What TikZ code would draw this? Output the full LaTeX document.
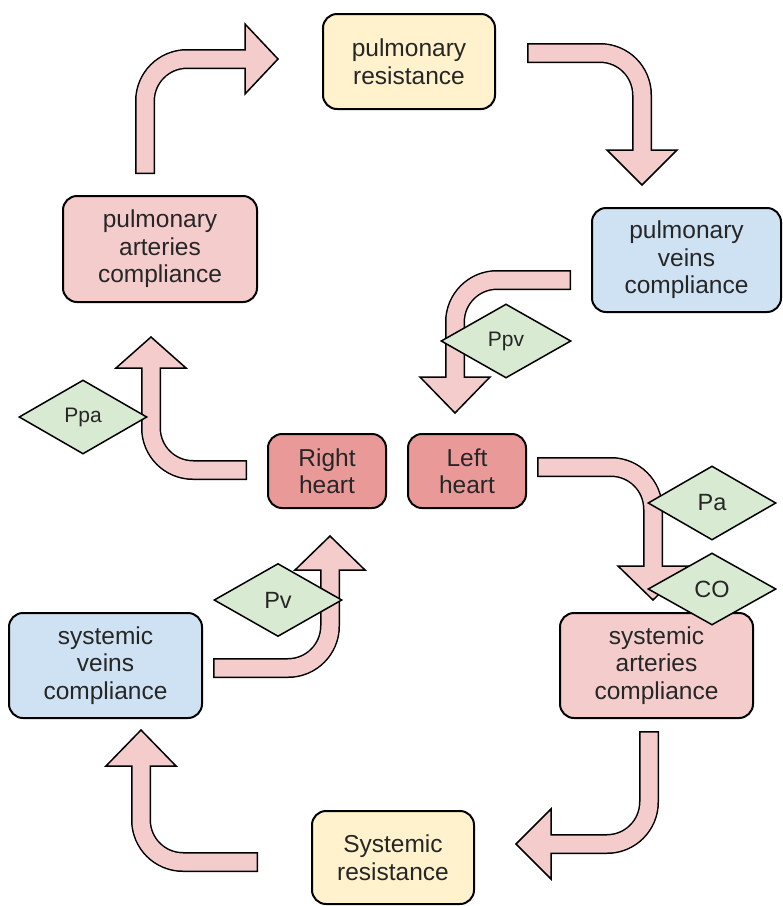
\documentclass[tikz,border=0pt]{standalone}
\usepackage{fontspec}
\setmainfont{Liberation Sans}
\usetikzlibrary{shapes.geometric,calc}

\definecolor{pinkfill}{HTML}{F4CCCC}
\definecolor{heartfill}{HTML}{EA9999}
\definecolor{resfill}{HTML}{FFF2CC}
\definecolor{veinfill}{HTML}{CFE2F3}
\definecolor{tagfill}{HTML}{D9EAD3}

\tikzset{
  box/.style={draw, line width=2pt, rounded corners=14pt, align=center, inner sep=0pt,
    text=black!85, font=\fontsize{24.5}{27.5}\selectfont},
  tag/.style={diamond, draw, line width=1.5pt, fill=tagfill, inner sep=0pt, text=black!85},
  flowedge/.style={line width=20pt, rounded corners=42pt},
  flowbody/.style={pinkfill, line width=17pt, rounded corners=42pt, shorten <=1.5pt, shorten >=-2pt},
  flowhead/.style={fill=pinkfill, line width=1.5pt, line join=miter}
}

% #1 centre line up to the head, #2 head base, #3 tip
\newcommand{\flow}[3]{%
  \draw[flowedge] #1;
  \filldraw[flowhead] ($(#2)!35pt!90:(#3)$) -- (#3) -- ($(#2)!35pt!-90:(#3)$) -- cycle;
  \draw[flowbody] #1;
}

\begin{document}
\begin{tikzpicture}[x=1pt,y=-1pt]
\useasboundingbox (0,0) rectangle (783,906);

\node[box, fill=resfill, minimum width=172pt, minimum height=95pt] (pres) at (409,61.5) {pulmonary\\resistance};
\node[box, fill=pinkfill, minimum width=194pt, minimum height=106pt] (pac) at (160,249) {pulmonary\\arteries\\compliance};
\node[box, fill=veinfill, minimum width=189pt, minimum height=104pt] (pvc) at (686.5,260) {pulmonary\\veins\\compliance};
\node[box, fill=heartfill, minimum width=118pt, minimum height=74pt] (rh) at (327,471) {Right\\heart};
\node[box, fill=heartfill, minimum width=118pt, minimum height=74pt] (lh) at (467,471) {Left\\heart};
\node[box, fill=pinkfill, minimum width=193pt, minimum height=105pt] (sac) at (656.5,665.5) {systemic\\arteries\\compliance};
\node[box, fill=veinfill, minimum width=193pt, minimum height=105pt] (svc) at (105.5,665.5) {systemic\\veins\\compliance};
\node[box, fill=resfill, minimum width=162pt, minimum height=93pt] (sres) at (393,857.5) {Systemic\\resistance};

\flow{($(pac.north)+(-15,-21)$) -- (145,59) -- (245,59)}{245,59}{278,59}
\flow{($(pres.east)+(31,-8.5)$) -- (642,53) -- (642,150)}{642,150}{642,185}
\flow{($(pvc.west)+(-20,20)$) -- (455,280) -- (455,377)}{455,377}{455,413}
\flow{($(rh.west)+(-20,-1)$) -- (151,470) -- (151,368)}{151,368}{151,337}
\flow{($(svc.east)+(10,2.5)$) -- (330,668) -- (330,570)}{330,570}{330,536}
\flow{($(lh.east)+(10,-4)$) -- (653,467) -- (653,566)}{653,566}{653,600}
\flow{($(sac.south)+(-7.5,12)$) -- (649,844) -- (551,844)}{551,844}{516,844}
\flow{($(sres.west)+(-53,4.5)$) -- (141,862) -- (141,766)}{141,766}{141,730}

\node[tag, minimum width=130pt, minimum height=74pt, font=\fontsize{21}{24}\selectfont] (ppv) at (506,341) {Ppv};
\node[tag, minimum width=128pt, minimum height=74pt, font=\fontsize{21}{24}\selectfont] (ppa) at (83,417) {Ppa};
\node[tag, minimum width=128pt, minimum height=73pt, font=\fontsize{23.5}{26}\selectfont] (pv) at (278,600) {Pv};
\node[tag, minimum width=128pt, minimum height=74pt, font=\fontsize{23.5}{26}\selectfont] (pa) at (712,503) {Pa};
\node[tag, minimum width=128pt, minimum height=72pt, font=\fontsize{23.5}{26}\selectfont] (co) at (712,589) {CO};
\end{tikzpicture}
\end{document}
